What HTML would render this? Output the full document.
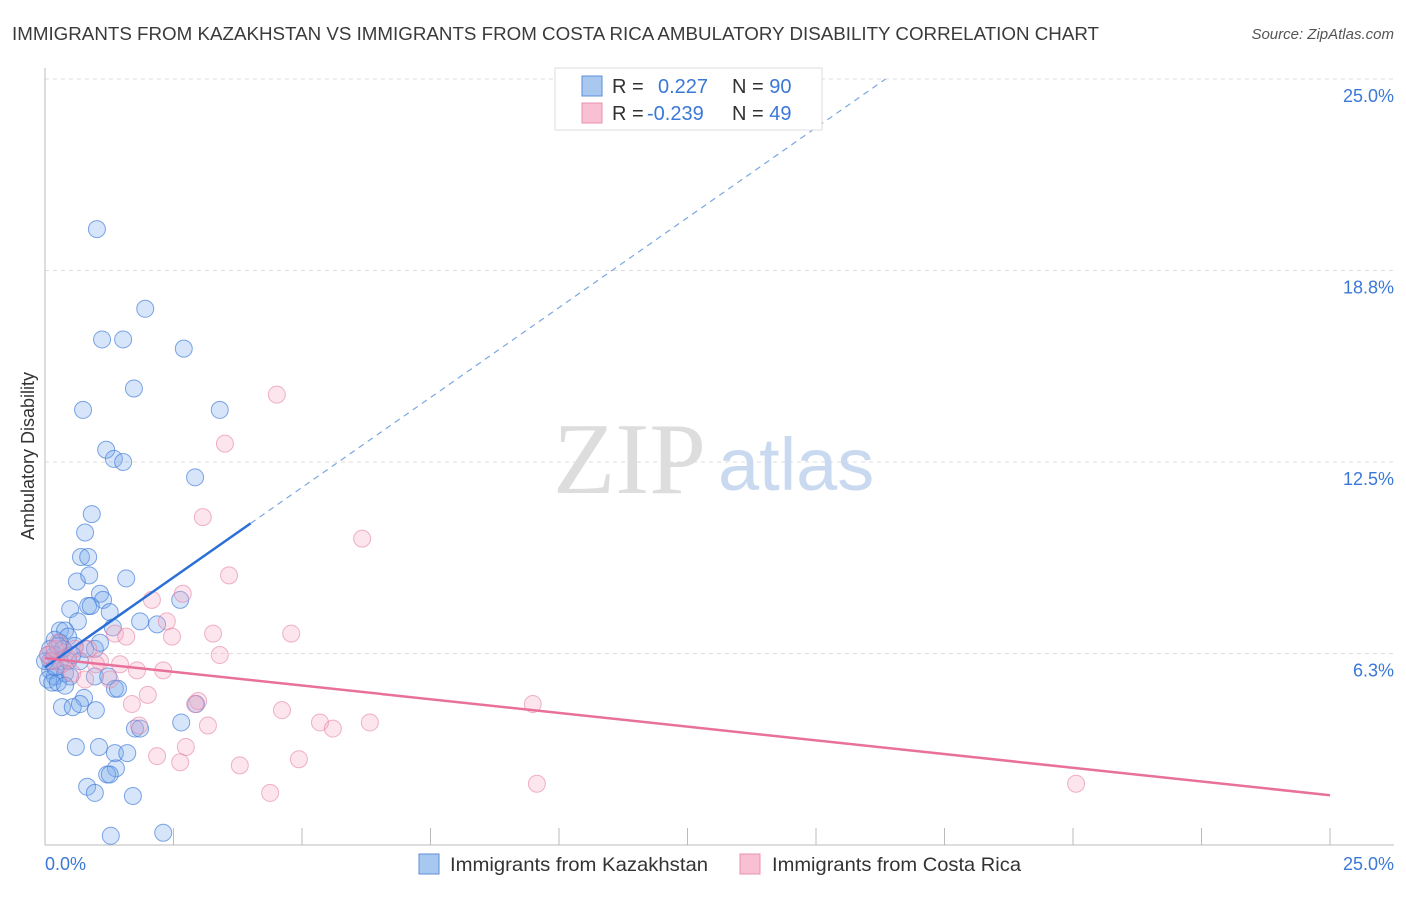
<!DOCTYPE html>
<html><head><meta charset="utf-8"><style>
body{margin:0;background:#fff;font-family:"Liberation Sans",sans-serif;}
</style></head><body>
<svg width="1406" height="892" xmlns="http://www.w3.org/2000/svg">
<text x="12" y="40" font-size="18" fill="#3a3a3a" textLength="1087" lengthAdjust="spacingAndGlyphs">IMMIGRANTS FROM KAZAKHSTAN VS IMMIGRANTS FROM COSTA RICA AMBULATORY DISABILITY CORRELATION CHART</text>
<text x="1394" y="39" font-size="15" font-style="italic" fill="#555" text-anchor="end">Source: ZipAtlas.com</text>
<g id="grid"></g>
<g id="axes"></g>
<text x="553" y="493" font-size="102" font-family="Liberation Serif,serif" fill="#ddd">ZIP</text>
<text x="718" y="490" font-size="74" fill="#c9daf0">atlas</text>
<g id="pts"></g>
<g id="trend"></g>
<text transform="translate(34,456) rotate(-90)" font-size="18" fill="#333" text-anchor="middle">Ambulatory Disability</text>
<g>
<rect x="555" y="68" width="267" height="62" fill="#fff" stroke="#ddd"/>
<rect x="582" y="76" width="20" height="20" fill="#a8c8f0" stroke="#5b8fd6"/>
<rect x="582" y="103" width="20" height="20" fill="#f8c0d2" stroke="#e890ac"/>
<text x="612" y="93" font-size="20" fill="#333">R = <tspan fill="#3a78d8" x="658">0.227</tspan><tspan fill="#333" x="732">N = </tspan><tspan fill="#3a78d8">90</tspan></text>
<text x="612" y="120" font-size="20" fill="#333">R = <tspan fill="#3a78d8" x="647">-0.239</tspan><tspan fill="#333" x="732">N = </tspan><tspan fill="#3a78d8">49</tspan></text>
</g>
<g>
<rect x="419" y="854" width="20" height="20" fill="#a8c8f0" stroke="#5b8fd6"/>
<text x="450" y="871" font-size="19.5" fill="#333" textLength="258" lengthAdjust="spacingAndGlyphs">Immigrants from Kazakhstan</text>
<rect x="740" y="854" width="20" height="20" fill="#f8c0d2" stroke="#e890ac"/>
<text x="772" y="871" font-size="19.5" fill="#333" textLength="249" lengthAdjust="spacingAndGlyphs">Immigrants from Costa Rica</text>
</g>
</svg>
<script>
const yTicks=[6.25,12.5,18.75,25];
const yTickLabels=["6.3%","12.5%","18.8%","25.0%"];
const xTickLabels=["0.0%","25.0%"];
const blueX=[1.01,1.95,1.11,1.52,2.70,1.73,0.74,3.40,1.19,1.34,1.52,2.92,0.91,0.78,0.70,0.84,0.62,0.86,1.58,1.07,1.13,0.49,0.84,0.89,1.26,2.63,1.85,2.18,1.32,0.64,0.29,0.39,0.45,0.19,0.29,0.58,0.78,0.97,1.07,0.10,0.19,0.29,0.45,0.68,0.10,0.19,0.39,0.49,0.06,0.14,0.25,0.39,0.97,1.23,1.36,1.42,0.76,0.33,0.54,0.68,0.99,2.65,2.94,1.75,1.85,0.60,1.05,1.36,1.60,1.38,1.21,1.26,0.82,0.97,1.71,1.28,2.30,0.1,0.2,0.0,0.06,0.35,0.53,0.25];
const blueY=[20.1,17.5,16.5,16.5,16.2,14.9,14.2,14.2,12.9,12.6,12.5,12.0,10.8,10.2,9.4,9.4,8.6,8.8,8.7,8.2,8.0,7.7,7.8,7.8,7.6,8.0,7.3,7.2,7.1,7.3,7.0,7.0,6.8,6.7,6.6,6.5,6.4,6.4,6.6,6.4,6.2,6.0,6.0,6.0,5.7,5.5,5.6,5.5,5.4,5.3,5.3,5.2,5.5,5.5,5.1,5.1,4.8,4.5,4.5,4.6,4.4,4.0,4.6,3.8,3.8,3.2,3.2,3.0,3.0,2.5,2.3,2.3,1.9,1.7,1.6,0.3,0.4,6.0,5.8,6.0,6.2,6.4,6.2,6.5];
const pinkX=[4.51,3.50,3.07,6.17,3.58,2.08,2.68,2.37,1.36,1.58,2.47,3.27,4.79,0.25,0.58,0.84,1.07,1.46,1.79,2.30,3.40,0.06,0.33,0.53,0.78,1.26,2.00,1.69,2.98,2.92,4.61,5.35,5.60,6.32,9.49,1.83,3.17,2.74,2.18,2.63,3.79,4.94,4.38,9.57,20.06,0.14,0.45,0.99,0.19];
const pinkY=[14.7,13.1,10.7,10.0,8.8,8.0,8.2,7.3,6.9,6.8,6.8,6.9,6.9,6.6,6.4,6.4,6.0,5.9,5.7,5.7,6.2,6.2,5.9,5.6,5.4,5.4,4.9,4.6,4.7,4.6,4.4,4.0,3.8,4.0,4.6,3.9,3.9,3.2,2.9,2.7,2.6,2.8,1.7,2.0,2.0,6.0,6.1,5.9,6.4];
const blueTrend=[5.8,1.174];
const pinkTrend=[6.1,-0.179];
const NS="http://www.w3.org/2000/svg";
const X=v=>45+v/25*1285, Y=v=>845-v/25*766;
function mk(t,a,p){const e=document.createElementNS(NS,t);for(const k in a)e.setAttribute(k,a[k]);p.appendChild(e);return e;}
const grid=document.getElementById('grid'),axes=document.getElementById('axes');
yTicks.forEach((t,i)=>{
 const l=mk('line',{x1:45,x2:1394,y1:Y(t),y2:Y(t),stroke:'#ddd','stroke-dasharray':'4,4'},grid);
 
 
 const tx=mk('text',{x:1394,y:Y(t)+23,'font-size':18,fill:'#3a78d8','text-anchor':'end'},axes);
 tx.textContent=yTickLabels[i];
 
 
});
const ya=mk('line',{x1:45,x2:45,y1:68,y2:845,stroke:'#bbb'},axes);


const xa=mk('line',{x1:45,x2:1394,y1:845,y2:845,stroke:'#bbb'},axes);


for(let i=0;i<=10;i++){
 const t=mk('line',{x1:X(i*2.5),x2:X(i*2.5),y1:828,y2:845,stroke:'#bbb'},axes);
 
 
}
[[0,45,'start'],[25,1394,'end']].forEach((d,i)=>{
 const tx=mk('text',{x:d[1],y:870,'font-size':18,fill:'#3a78d8','text-anchor':d[2]},axes);
 tx.textContent=xTickLabels[i];
 
 
});
const pts=document.getElementById('pts');
blueX.forEach((x,i)=>{
 const c=mk('circle',{cx:X(x),cy:Y(blueY[i]),r:8.5,fill:'rgba(120,170,235,0.3)',stroke:'rgba(60,120,215,0.65)','stroke-width':1},pts);
 
 
});
pinkX.forEach((x,i)=>{
 const c=mk('circle',{cx:X(x),cy:Y(pinkY[i]),r:8.5,fill:'rgba(245,170,195,0.3)',stroke:'rgba(230,130,165,0.6)','stroke-width':1},pts);
 
 
});
const tr=document.getElementById('trend');
const bEnd=(25-blueTrend[0])/blueTrend[1];
const bs=mk('line',{x1:X(0),y1:Y(blueTrend[0]),x2:X(4),y2:Y(blueTrend[0]+4*blueTrend[1]),stroke:'#2a6fd6','stroke-width':2.5},tr);


const bd=mk('line',{x1:X(4),y1:Y(blueTrend[0]+4*blueTrend[1]),x2:X(bEnd),y2:Y(25),stroke:'#7aa6e0','stroke-width':1.2,'stroke-dasharray':'6,5'},tr);


const ps=mk('line',{x1:X(0),y1:Y(pinkTrend[0]),x2:X(25),y2:Y(pinkTrend[0]+25*pinkTrend[1]),stroke:'#e8709a','stroke-width':2.5},tr);


</script>
</body></html>
